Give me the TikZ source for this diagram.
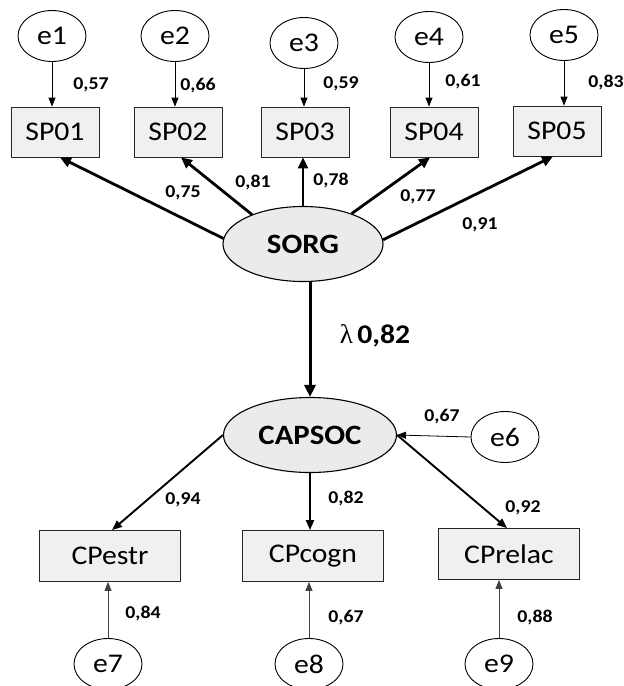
\documentclass[tikz,border=0pt]{standalone}
\usepackage{fontspec}
\setmainfont{Carlito}[FakeStretch=1.1]
\newfontfamily\lamfont{Liberation Serif}
\usetikzlibrary{shapes.geometric,arrows.meta,calc}
\begin{document}
\begin{tikzpicture}[x=1pt,y=-1pt,
 obs/.style={draw=black!85, line width=0.8pt, fill=black!6, minimum width=88pt, minimum height=50pt, inner sep=0pt, font=\fontsize{27}{27}\selectfont},
 obsw/.style={obs, minimum width=141pt, minimum height=51pt},
 err/.style={ellipse, draw, fill=white, line width=0.9pt, minimum width=68pt, minimum height=51pt, inner sep=0pt, font=\fontsize{27}{27}\selectfont},
 lat/.style={ellipse, draw, line width=1.1pt, fill=black!8, minimum height=75pt, inner sep=0pt, font=\bfseries\fontsize{28}{28}\selectfont},
 errarrow/.style={-{Triangle[length=9pt,width=7pt]}, line width=0.8pt},
 errarrowg/.style={errarrow, draw=black!75},
 patharrow/.style={-{Triangle[length=11pt,width=10pt]}, line width=2.8pt},
 midarrow/.style={-{Triangle[length=10pt,width=8pt]}, line width=1.9pt},
 lab/.style={font=\bfseries\fontsize{18}{18}\selectfont, inner sep=0pt}]
\useasboundingbox (0,0) rectangle (624,686);
% top error terms
\node[err] (e1) at (52,36) {e1};
\node[err] (e2) at (175,36) {e2};
\node[err] (e3) at (304,43) {e3};
\node[err] (e4) at (429,37) {e4};
\node[err] (e5) at (564,35) {e5};
% indicators
\node[obs] (sp1) at (55,132) {SP01};
\node[obs] (sp2) at (178,132) {SP02};
\node[obs] (sp3) at (305,132) {SP03};
\node[obs] (sp4) at (434,132) {SP04};
\node[obs] (sp5) at (557,131) {SP05};
% latent
\node[lat, minimum width=160pt] (sorg) at (303,244) {SORG};
\node[lat, minimum width=173pt] (capsoc) at (310,435) {CAPSOC};
\node[err] (e6) at (505,437) {e6};
% lower indicators
\node[obsw] (cp1) at (110,556) {CPestr};
\node[obsw] (cp2) at (313,556) {CPcogn};
\node[obsw] (cp3) at (509,554) {CPrelac};
\node[err] (e7) at (108,664) {e7};
\node[err] (e8) at (309,664) {e8};
\node[err] (e9) at (499,664) {e9};
% error arrows top
\foreach \i in {1,...,5}
  \draw[errarrow] (e\i.south) -- (e\i.south |- sp\i.north);
% SORG loadings
\draw[patharrow] (sorg.176) -- ($(sp1.south)+(5,0)$);
\draw[patharrow] (sorg.150) -- ($(sp2.south)+(3,0)$);
\draw[patharrow] (sorg.north) -- (sorg.north |- sp3.south);
\draw[patharrow] (sorg.32) -- ($(sp4.south)+(-4,0)$);
\draw[patharrow] (sorg.3) -- ($(sp5.south)+(-4,0)$);
% structural path
\draw[-{Triangle[length=12pt,width=11pt]}, line width=3pt] (capsoc.north |- sorg.south) -- (capsoc.north);
% CAPSOC loadings
\draw[midarrow] (capsoc.west) -- ($(cp1.north)+(2,0)$);
\draw[midarrow] (capsoc.south) -- (capsoc.south |- cp2.north);
\draw[midarrow] (capsoc.east) -- ($(cp3.north)+(-2,0)$);
\draw[errarrow] (e6.west) -- (capsoc.east);
% lower error arrows
\draw[errarrowg] (e7.north) -- (e7.north |- cp1.south);
\draw[errarrowg] (e8.north) -- (e8.north |- cp2.south);
\draw[errarrowg] (e9.north) -- (e9.north |- cp3.south);
% labels
\node[lab] (l1) at (91,85) {0,57};
\node[lab] (l2) at (198,86) {0,66};
\node[lab] (l3) at (341,84) {0,59};
\node[lab] (l4) at (463,82) {0,61};
\node[lab] (l5) at (606,82) {0,83};
\node[lab] (l6) at (183,193) {0,75};
\node[lab] (l7) at (253,182) {0,81};
\node[lab] (l8) at (331,180) {0,78};
\node[lab] (l9) at (418,197) {0,77};
\node[lab] (l10) at (480,225) {0,91};
\node[inner sep=0pt] (lam) at (375,336) {\fontsize{27}{27}\selectfont{\lamfont λ}\,\bfseries 0,82};
\node[lab] (l11) at (442,417) {0,67};
\node[lab] (l12) at (183,500) {0,94};
\node[lab] (l13) at (346,498) {0,82};
\node[lab] (l14) at (523,508) {0,92};
\node[lab] (l15) at (143,613) {0,84};
\node[lab] (l16) at (346,618) {0,67};
\node[lab] (l17) at (535,617) {0,88};
\end{tikzpicture}
\end{document}
